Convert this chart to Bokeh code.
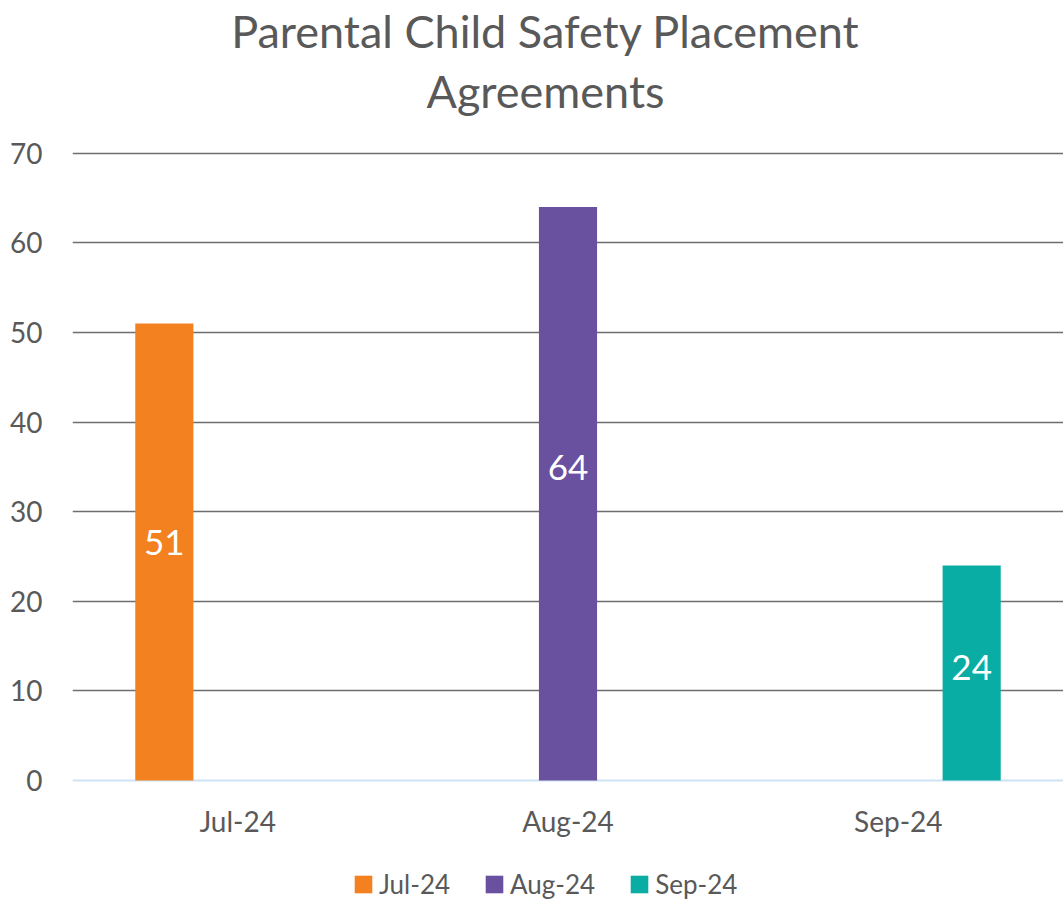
from bokeh.plotting import figure
from bokeh.models import (ColumnDataSource, FixedTicker, Legend, LegendItem, Span, Label, Range1d)
from bokeh.transform import dodge
from bokeh.core.properties import value
from bokeh.embed import file_html
from bokeh.resources import INLINE

# ---- data ----
months = ["Jul-24", "Aug-24", "Sep-24"]
series_names = ["Jul-24", "Aug-24", "Sep-24"]
jul_values = [51, None, None]
aug_values = [None, 64, None]
sep_values = [None, None, 24]
series_values = [jul_values, aug_values, sep_values]
y_ticks = [0, 10, 20, 30, 40, 50, 60, 70]
title_lines = ["Parental Child Safety Placement", "Agreements"]

# ---- styling / layout ----
series_colors = ["#F48120", "#6A51A0", "#0AADA4"]
label_nudge_px = [-10, -26, -5]   # data-label nudges (screen px, negative = up)
FONT = "Lato"
TXT = "#595959"
W, H = 1063, 900
LEFT = 72
PLOT_TOP_PX, PLOT_BOTTOM_PX = 152.8, 780.0   # pixel rows of y=70 and y=0
units_per_px = 70.0 / (PLOT_BOTTOM_PX - PLOT_TOP_PX)
y_lo = -(H - PLOT_BOTTOM_PX) * units_per_px
y_hi = 70.0 + PLOT_TOP_PX * units_per_px

p = figure(width=W, height=H, x_range=months, y_range=Range1d(y_lo, y_hi),
           output_backend="svg", toolbar_location=None,
           min_border_left=LEFT, min_border_right=0, min_border_top=0, min_border_bottom=0)
p.title = None
p.outline_line_color = None
p.background_fill_color = "white"
p.border_fill_color = "white"

# title (frame-relative screen units)
for txt, yy in zip(title_lines, [H - 30, H - 90]):
    p.add_layout(Label(x=545 - LEFT, y=yy, x_units="screen", y_units="screen", text=txt,
                       text_font=FONT, text_font_size="45px", text_color=TXT,
                       text_align="center", text_baseline="alphabetic"))

offsets = [-0.222, 0.0, 0.222]
bar_w = 0.176
items = []
for name, vals, col, off, nudge in zip(series_names, series_values, series_colors, offsets, label_nudge_px):
    src = ColumnDataSource(dict(x=months, top=[v if v is not None else float("nan") for v in vals],
                                mid=[v / 2 if v is not None else float("nan") for v in vals],
                                lab=[str(v) if v is not None else "" for v in vals]))
    r = p.vbar(x=dodge("x", off, range=p.x_range), top="top", bottom=0, width=bar_w,
               source=src, fill_color=col, line_color=None)
    p.text(x=dodge("x", off, range=p.x_range), y="mid", text="lab", source=src,
           text_color="white", text_font=value(FONT), text_font_size="35px",
           text_align="center", text_baseline="middle", y_offset=nudge)
    items.append(LegendItem(label=name, renderers=[r]))

# zero line
p.add_layout(Span(location=0, dimension="width", line_color="#CDE3F5", line_width=2, level="underlay"))

# grid
p.xgrid.grid_line_color = None
p.ygrid.ticker = FixedTicker(ticks=y_ticks[1:])
p.ygrid.grid_line_color = "#6E6E6E"
p.ygrid.grid_line_width = 1.5

# axes
p.yaxis.ticker = FixedTicker(ticks=y_ticks)
p.yaxis.axis_line_color = None
p.yaxis.major_tick_line_color = None
p.yaxis.minor_tick_line_color = None
p.yaxis.major_label_text_font = FONT
p.yaxis.major_label_text_font_size = "28px"
p.yaxis.major_label_text_color = TXT
p.yaxis.major_label_standoff = 24

p.xaxis.fixed_location = 0
p.xaxis.axis_line_color = None
p.xaxis.major_tick_line_color = None
p.xaxis.minor_tick_line_color = None
p.xaxis.major_label_text_font = FONT
p.xaxis.major_label_text_font_size = "28px"
p.xaxis.major_label_text_color = TXT
p.xaxis.major_label_standoff = 17

legend = Legend(items=items, orientation="horizontal", location=(352 - LEFT, 0),
                label_text_font=FONT, label_text_font_size="26px", label_text_color=TXT,
                glyph_width=22, glyph_height=22, label_standoff=5, spacing=33,
                border_line_color=None, background_fill_alpha=0, padding=0, margin=0)
p.add_layout(legend, "center")

open("out.html", "w").write(file_html(p, INLINE))
